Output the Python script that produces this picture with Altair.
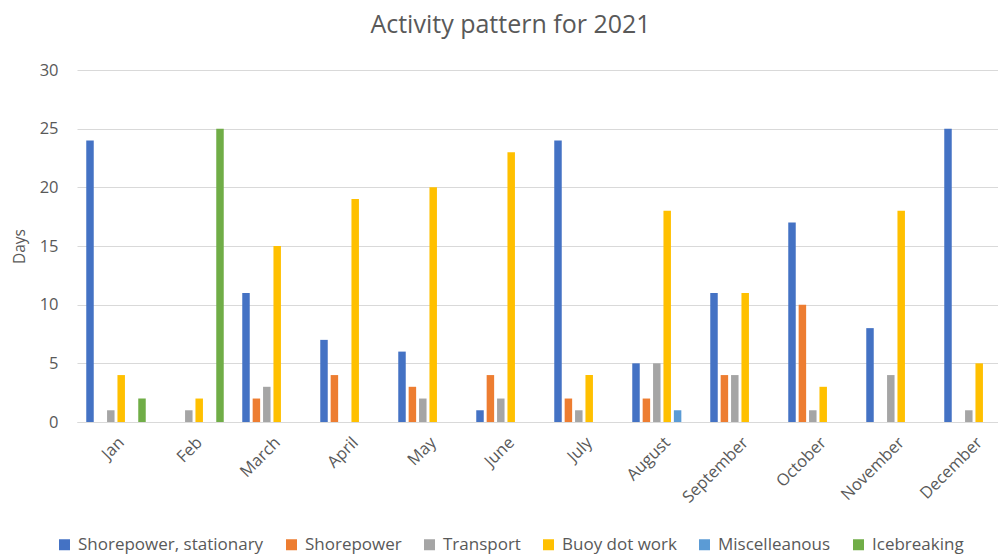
import altair as alt
import pandas as pd

months = ["Jan", "Feb", "March", "April", "May", "June", "July", "August",
          "September", "October", "November", "December"]
series = ["Shorepower, stationary", "Shorepower", "Transport", "Buoy dot work",
          "Miscelleanous", "Icebreaking"]
colors = ["#4472C4", "#ED7D31", "#A5A5A5", "#FFC000", "#5B9BD5", "#70AD47"]

shorepower_stationary = [24, 0, 11, 7, 6, 1, 24, 5, 11, 17, 8, 25]
shorepower = [0, 0, 2, 4, 3, 4, 2, 2, 4, 10, 0, 0]
transport = [1, 1, 3, 0, 2, 2, 1, 5, 4, 1, 4, 1]
buoy_dot_work = [4, 2, 15, 19, 20, 23, 4, 18, 11, 3, 18, 5]
miscelleanous = [0, 0, 0, 0, 0, 0, 0, 1, 0, 0, 0, 0]
icebreaking = [2, 25, 0, 0, 0, 0, 0, 0, 0, 0, 0, 0]

values = [shorepower_stationary, shorepower, transport, buoy_dot_work,
          miscelleanous, icebreaking]

rows = []
for s, vals in zip(series, values):
    for m, v in zip(months, vals):
        rows.append({"Month": m, "Series": s, "Days": v})
df = pd.DataFrame(rows)

FONT = "Open Sans"
GREY = "#595959"

chart = alt.Chart(df).mark_bar().encode(
    x=alt.X("Month:N", sort=months,
            scale=alt.Scale(paddingInner=0.2, paddingOuter=0.1, range=[0, 936]),
            axis=alt.Axis(title=None, labelAngle=-45, labelFontSize=16.5,
                          labelColor=GREY, labelFont=FONT, ticks=False,
                          domainColor="#D9D9D9", labelPadding=12)),
    xOffset=alt.XOffset("Series:N", sort=series,
                        scale=alt.Scale(paddingInner=0.28, paddingOuter=0.14)),
    y=alt.Y("Days:Q", scale=alt.Scale(domain=[0, 30]),
            axis=alt.Axis(values=[0, 5, 10, 15, 20, 25, 30], ticks=False,
                          domain=False, gridColor="#D9D9D9", labelFontSize=16.5,
                          labelColor=GREY, labelFont=FONT, labelPadding=19,
                          title="Days", titleFont=FONT, titleFontSize=15.5,
                          titleColor=GREY, titleFontWeight="normal",
                          titleX=-58, titleY=176, titleAngle=270,
                          titleAlign="center", titleBaseline="middle")),
    color=alt.Color("Series:N", sort=series,
                    scale=alt.Scale(domain=series, range=colors),
                    legend=alt.Legend(title=None, orient="none", direction="horizontal",
                                      legendX=-21, legendY=466, symbolType="square",
                                      symbolSize=121, labelFontSize=17, labelFont=FONT,
                                      labelColor=GREY, columnPadding=19, labelLimit=0,
                                      labelOffset=5, symbolStrokeWidth=0)),
).properties(
    width=921,
    height=352,
    title=alt.TitleParams("Activity pattern for 2021", font=FONT, fontSize=25,
                          color=GREY, fontWeight="normal", anchor="middle",
                          dx=-27, offset=24),
    autosize=alt.AutoSizeParams(type="none"),
    padding={"left": 77, "top": 70, "right": 0, "bottom": 133},
).configure_view(stroke=None)

chart.save("out.html", embed_options={"renderer": "svg", "actions": False})
